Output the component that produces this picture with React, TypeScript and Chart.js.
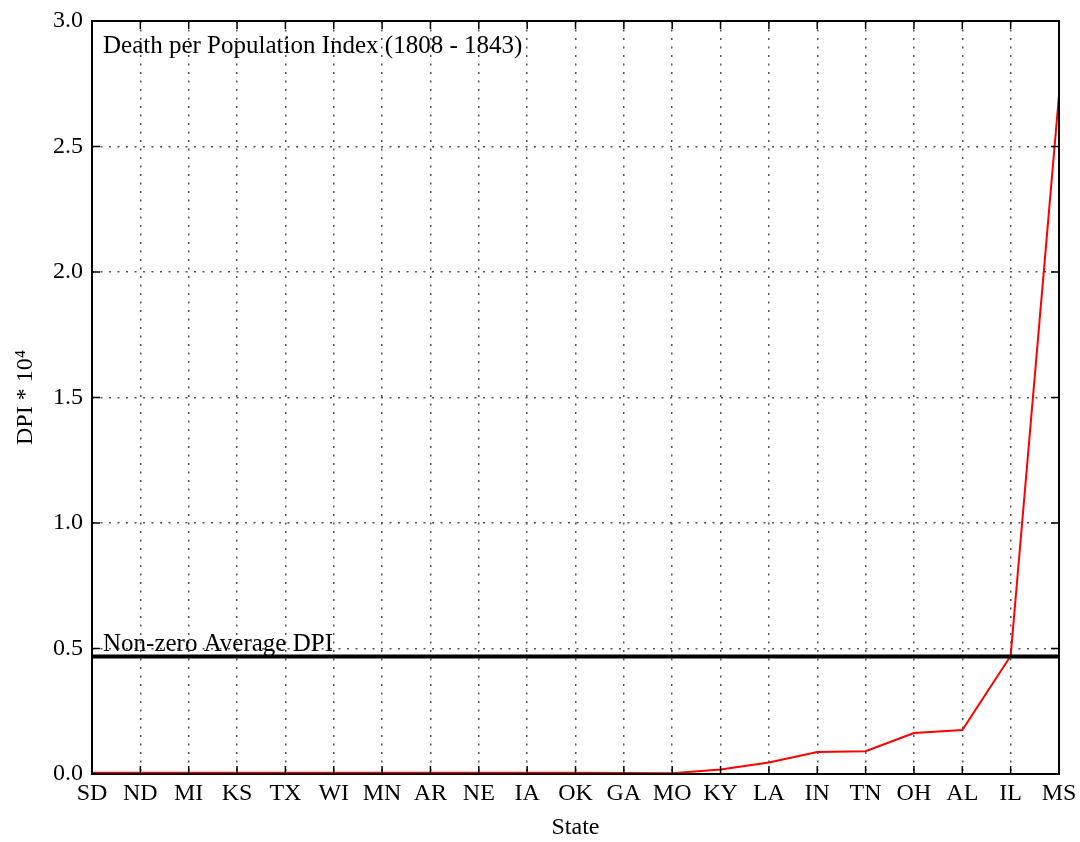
import React, { useEffect, useRef } from "react";
import { Chart, registerables } from "chart.js";

Chart.register(...registerables);

const STATES = ["SD", "ND", "MI", "KS", "TX", "WI", "MN", "AR", "NE", "IA", "OK", "GA", "MO", "KY", "LA", "IN", "TN", "OH", "AL", "IL", "MS"];
const DPI = [0.005, 0.005, 0.005, 0.005, 0.005, 0.005, 0.005, 0.005, 0.005, 0.005, 0.005, 0.004, 0.003, 0.018, 0.046, 0.088, 0.091, 0.163, 0.175, 0.47, 2.705];
const AVG_DPI = 0.468;
const Y_TICKS = [0, 0.5, 1.0, 1.5, 2.0, 2.5, 3.0];
const TITLE = "Death per Population Index (1808 - 1843)";
const AVG_LABEL = "Non-zero Average DPI";
const FONT = "'Liberation Serif', 'Times New Roman', serif";

const framePlugin = {
  id: "frame",
  afterDatasetsDraw(chart: any) {
    const { ctx, chartArea: a, scales } = chart;
    const x = scales.x;
    const y = scales.y;
    ctx.save();
    // average line
    const ay = y.getPixelForValue(AVG_DPI);
    ctx.strokeStyle = "#000";
    ctx.lineWidth = 4;
    ctx.beginPath();
    ctx.moveTo(a.left, ay);
    ctx.lineTo(a.right, ay);
    ctx.stroke();
    // ticks inward
    ctx.lineWidth = 1.5;
    const tl = 8;
    ctx.beginPath();
    STATES.forEach((_, i) => {
      const px = x.getPixelForValue(i);
      ctx.moveTo(px, a.bottom);
      ctx.lineTo(px, a.bottom - tl);
      ctx.moveTo(px, a.top);
      ctx.lineTo(px, a.top + tl);
    });
    Y_TICKS.forEach((v) => {
      const py = y.getPixelForValue(v);
      ctx.moveTo(a.left, py);
      ctx.lineTo(a.left + tl, py);
      ctx.moveTo(a.right, py);
      ctx.lineTo(a.right - tl, py);
    });
    ctx.stroke();
    // frame
    ctx.lineWidth = 2;
    ctx.strokeRect(a.left, a.top, a.right - a.left, a.bottom - a.top);
    // texts
    ctx.fillStyle = "#000";
    ctx.font = `25px ${FONT}`;
    ctx.textAlign = "left";
    ctx.textBaseline = "alphabetic";
    ctx.fillText(TITLE, a.left + 11, a.top + 32);
    ctx.fillText(AVG_LABEL, a.left + 11, ay - 6);
    ctx.restore();
  },
};

export default function App() {
  const ref = useRef<HTMLCanvasElement | null>(null);
  useEffect(() => {
    if (!ref.current) return;
    const chart = new Chart(ref.current, {
      type: "line",
      data: {
        labels: STATES,
        datasets: [
          {
            data: DPI,
            borderColor: "#ff0000",
            borderWidth: 2,
            pointRadius: 0,
            tension: 0,
            fill: false,
          },
        ],
      },
      options: {
        animation: false,
        responsive: true,
        maintainAspectRatio: false,
        layout: { padding: { top: 21, right: 21, left: 0, bottom: 0 } },
        plugins: { legend: { display: false }, tooltip: { enabled: false } },
        scales: {
          x: {
            type: "category",
            offset: false,
            grid: { display: true, drawTicks: false, color: "#555", lineWidth: 1.5 },
            border: { display: false, dash: [2, 6.5] },
            ticks: { color: "#000", font: { family: FONT, size: 24 }, padding: 5, maxRotation: 0, autoSkip: false },
            title: { display: true, text: "State", color: "#000", font: { family: FONT, size: 24 }, padding: { top: 4, bottom: 0 } },
            afterFit: (s: any) => {
              s.height = 68;
              s.paddingLeft = 0;
              s.paddingRight = 0;
            },
          },
          y: {
            min: 0,
            max: 3,
            grid: { display: true, drawTicks: false, color: "#555", lineWidth: 1.5 },
            border: { display: false, dash: [2, 6.5] },
            ticks: {
              stepSize: 0.5,
              color: "#000",
              font: { family: FONT, size: 24 },
              padding: 9,
              callback: (v: any) => Number(v).toFixed(1),
            },
            title: { display: true, text: "DPI * 10\u2074", color: "#000", font: { family: FONT, size: 24 }, padding: { top: 11, bottom: 0 } },
            afterFit: (s: any) => {
              s.width = 92;
              s.paddingTop = 0;
              s.paddingBottom = 0;
            },
          },
        },
      },
      plugins: [framePlugin],
    });
    return () => chart.destroy();
  }, []);
  return (
    <div style={{ position: "fixed", left: 0, top: 0, width: 1080, height: 842, background: "#fff" }}>
      <canvas ref={ref} />
    </div>
  );
}
